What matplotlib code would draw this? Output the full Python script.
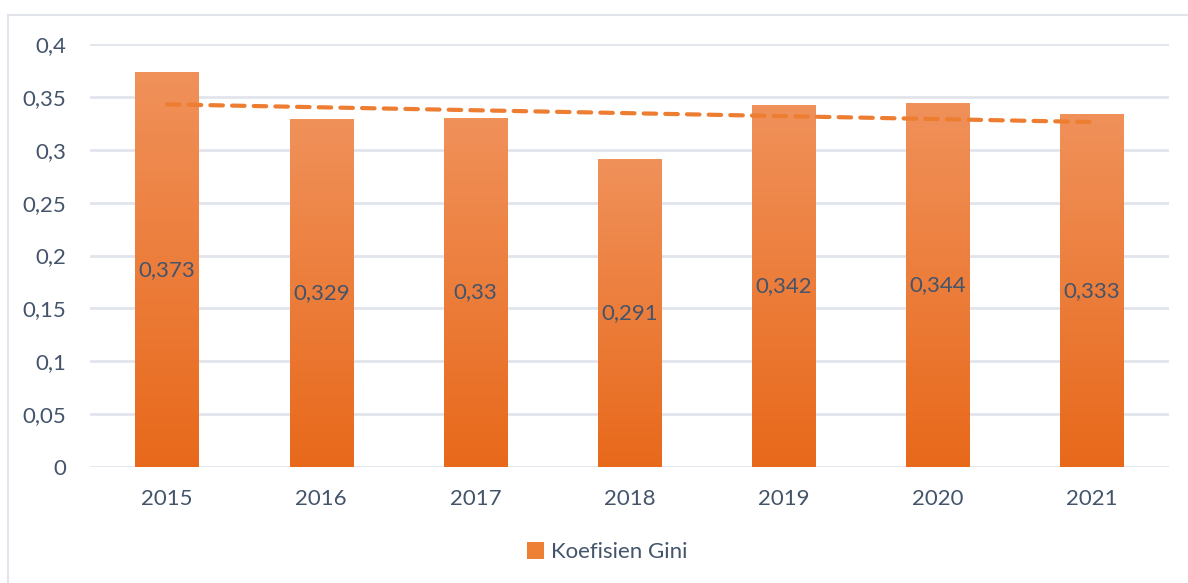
import numpy as np
import matplotlib.pyplot as plt
from matplotlib.colors import LinearSegmentedColormap
from matplotlib.patches import Patch
from matplotlib.lines import Line2D

plt.rcParams['font.family'] = ['Lato', 'DejaVu Sans']

years = ['2015', '2016', '2017', '2018', '2019', '2020', '2021']
gini = [0.373, 0.329, 0.33, 0.291, 0.342, 0.344, 0.333]
labels = ['0,373', '0,329', '0,33', '0,291', '0,342', '0,344', '0,333']
yticks = [0, 0.05, 0.1, 0.15, 0.2, 0.25, 0.3, 0.35, 0.4]
yticklabels = ['0', '0,05', '0,1', '0,15', '0,2', '0,25', '0,3', '0,35', '0,4']

text_col = '#44546A'
grid_col = '#E1E5EB'
orange = '#ED7D31'

fig = plt.figure(figsize=(11.88, 5.83), dpi=100)
# outer chart border (left and top visible)
fig.add_artist(Line2D([8 / 1188, 8 / 1188], [0, 1 - 15 / 583], color=grid_col, lw=1.5))
fig.add_artist(Line2D([8 / 1188, 1], [1 - 15 / 583, 1 - 15 / 583], color=grid_col, lw=1.5))

ax = fig.add_axes([90 / 1188, 1 - 467 / 583, (1169 - 90) / 1188, (467 - 44) / 583])
x = np.arange(len(years))
width = 0.41

cmap = LinearSegmentedColormap.from_list('og', ['#E8691B', '#F0915A'])
grad = np.linspace(0, 1, 256).reshape(-1, 1)
for xi, v, lab in zip(x, gini, labels):
    ax.imshow(grad, extent=[xi - width / 2, xi + width / 2, 0, v], origin='lower',
              cmap=cmap, aspect='auto', zorder=2)
    ax.text(xi, v / 2, lab, ha='center', va='center', fontsize=16, color=text_col, zorder=4)

# linear trendline
k, b = np.polyfit(x, gini, 1)
ax.plot(x, k * x + b, color=orange, lw=3, ls=(0, (3, 2.2)), zorder=3,
        solid_capstyle='round', dash_capstyle='round')

ax.set_xlim(-0.5, len(years) - 0.5)
ax.set_ylim(0, 0.4)
ax.set_yticks(yticks)
ax.set_yticklabels(yticklabels)
ax.set_xticks(x)
ax.set_xticklabels(years)
ax.tick_params(length=0, labelsize=16, colors=text_col)
ax.tick_params(axis='y', pad=17)
ax.tick_params(axis='x', pad=16)
ax.grid(axis='y', color=grid_col, lw=2, zorder=0)
for s in ax.spines.values():
    s.set_visible(False)
ax.set_axisbelow(True)

fig.legend(handles=[Patch(facecolor='#EE8035', edgecolor='none', label='Koefisien Gini')],
           loc='center', bbox_to_anchor=(607 / 1188, 1 - 552 / 583), frameon=False,
           fontsize=16, labelcolor=text_col, handlelength=0.8, handleheight=0.8,
           handletextpad=0.3)

fig.savefig('out.png', dpi=100)
